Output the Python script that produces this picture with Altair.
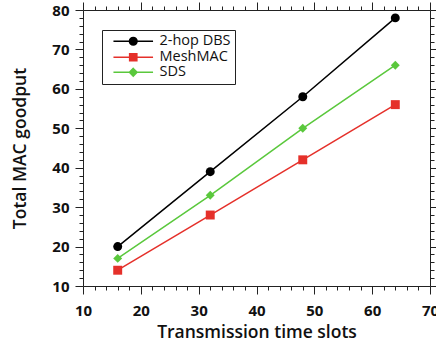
import altair as alt
import pandas as pd

slots = [16, 32, 48, 64]
dbs = [20, 39, 58, 78]
meshmac = [14, 28, 42, 56]
sds = [17, 33, 50, 66]
series = ["2-hop DBS", "MeshMAC", "SDS"]
colors = ["#000000", "#e5302a", "#5ac83c"]
marker_shapes = ["circle", "square", "diamond"]
x_ticks = list(range(10, 71, 2))
y_ticks = list(range(10, 81, 2))

rows = []
for name, vals in zip(series, [dbs, meshmac, sds]):
    for s, v in zip(slots, vals):
        rows.append({"slots": s, "goodput": v, "series": name})
df = pd.DataFrame(rows)

FONT = "Open Sans"
tick_size = {"condition": {"test": "datum.value % 10 === 0", "value": 8}, "value": 4}
lab_expr = "datum.value % 10 === 0 ? datum.label : ''"

xs = alt.Scale(domain=[10, 70], nice=False, zero=False)
ys = alt.Scale(domain=[10, 80], nice=False, zero=False)


def cs():
    return alt.Scale(domain=series, range=colors)


def mk_axis(orient, values, title=None, labels=True, lpad=3, tpad=4):
    kw = dict(
        orient=orient, values=values, tickSize=tick_size, tickColor="#222",
        tickWidth=1, domainColor="#222", domainWidth=1, grid=False,
        labelOverlap=False, labelFlush=False,
    )
    if labels:
        kw.update(labelExpr=lab_expr, labelFont=FONT, labelFontSize=15,
                  labelFontWeight="bold", labelColor="#111", labelPadding=lpad)
    else:
        kw.update(labels=False)
    if title:
        kw.update(title=title, titleFont=FONT, titleFontSize=17.5,
                  titleFontWeight=600, titleColor="#111", titlePadding=tpad)
    else:
        kw.update(title=None)
    return alt.Axis(**kw)


base = alt.Chart(df)

lines = base.mark_line(strokeWidth=1.5).encode(
    x=alt.X("slots:Q", scale=xs, axis=mk_axis("bottom", x_ticks, "Transmission time slots", lpad=9, tpad=5)),
    y=alt.Y("goodput:Q", scale=ys, axis=mk_axis("left", y_ticks, "Total MAC goodput", lpad=6, tpad=22)),
    stroke=alt.Stroke("series:N", scale=cs(), legend=None),
)

point_layers = []
for name, shp in zip(series, marker_shapes):
    point_layers.append(
        base.transform_filter(alt.datum.series == name).mark_point(
            filled=True, size=80, opacity=1, shape=shp
        ).encode(
            x=alt.X("slots:Q", scale=xs, axis=None),
            y=alt.Y("goodput:Q", scale=ys, axis=None),
            fill=alt.Fill("series:N", scale=cs(), legend=None),
        )
    )

# legend glyphs: a line segment plus a marker drawn as nested outlines (stroke only)
ln = "M-4.4,0H4.4"


def circ(r):
    return f"M{-r},0A{r},{r} 0 1,0 {r},0A{r},{r} 0 1,0 {-r},0Z"


def sq(r):
    return f"M{-r},{-r}H{r}V{r}H{-r}Z"


def dia(r):
    return f"M0,{-r}L{r},0L0,{r}L{-r},0Z"


paths = [
    ln + "".join(circ(r) for r in [0.85, 0.55, 0.25, 0.05]),
    ln + "".join(sq(r) for r in [0.8, 0.5, 0.2, 0.05]),
    ln + "".join(dia(r) for r in [0.85, 0.55, 0.25, 0.05]),
]

leg = alt.Legend(
    title=None, orient="none", legendX=19, legendY=20,
    strokeColor="#222", fillColor="white", padding=4,
    labelFont=FONT, labelFontSize=14.5, labelColor="#111",
    labelExpr="datum.label + '\u00a0\u00a0'",
    symbolSize=81, symbolStrokeWidth=1.5, symbolOpacity=1,
    symbolOffset=20, labelOffset=19, rowPadding=0,
)

legend_layer = base.mark_point(filled=False, opacity=0).encode(
    x=alt.X("slots:Q", scale=xs, axis=None),
    y=alt.Y("goodput:Q", scale=ys, axis=None),
    color=alt.Color("series:N", scale=cs(), legend=leg),
    shape=alt.Shape("series:N", scale=alt.Scale(domain=series, range=paths), legend=leg),
)

frame = base.mark_point(opacity=0).encode(
    x=alt.X("slots:Q", scale=xs, axis=mk_axis("top", x_ticks, labels=False)),
    y=alt.Y("goodput:Q", scale=ys, axis=mk_axis("right", y_ticks, labels=False)),
)

chart = alt.layer(lines, *point_layers, legend_layer, frame).resolve_scale(
    color="independent", shape="independent"
).resolve_axis(
    x="independent", y="independent"
).properties(
    width=347, height=276,
    autosize=alt.AutoSizeParams(type="none"),
    padding={"left": 83, "top": 10, "right": 6, "bottom": 58},
).configure_view(stroke=None)

chart.save("out.html", embed_options={"renderer": "svg", "actions": False})
